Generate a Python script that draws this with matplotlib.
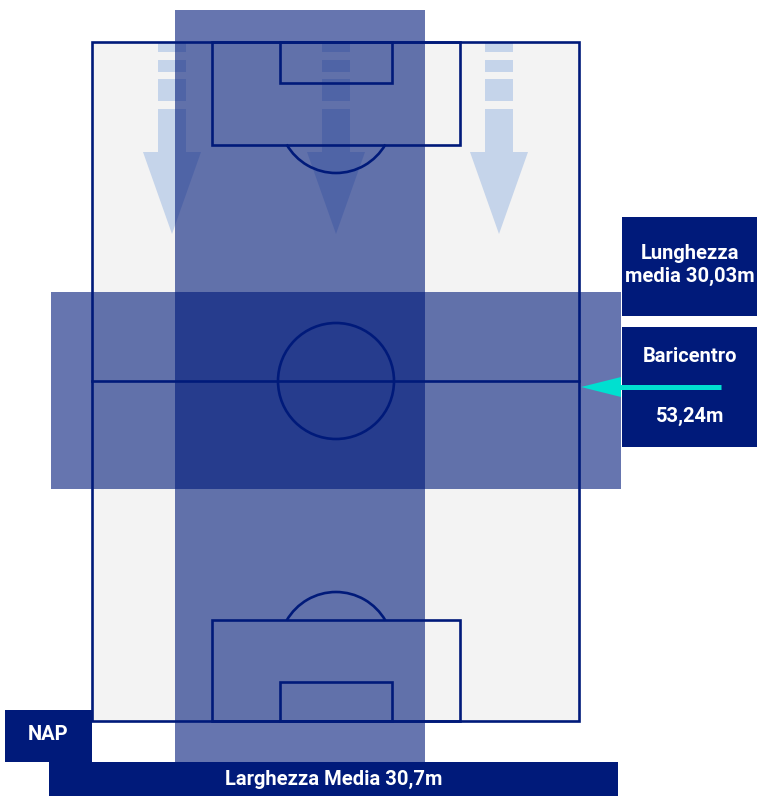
import matplotlib
matplotlib.use("Agg")
import matplotlib.pyplot as plt
from matplotlib.patches import Rectangle, Arc, Circle, Polygon

# ---- data ----
team = "NAP"
larghezza_media = 30.7      # m
lunghezza_media = 30.03     # m
baricentro = 53.24          # m

def fmt(v, nd):
    return f"{v:.{nd}f}".replace(".", ",")

NAVY = "#001a7a"
BAND = "#001a7a"
ARROW = "#c5d4ea"
CYAN = "#00e0d0"
PITCH = "#f3f3f3"

fig = plt.figure(figsize=(7.57, 7.96), dpi=100)
ax = fig.add_axes([0, 0, 1, 1])
ax.set_xlim(0, 757)
ax.set_ylim(796, 0)
ax.axis("off")

lw = 1.9
# pitch
ax.add_patch(Rectangle((92, 42), 487, 679, facecolor=PITCH, edgecolor="none", zorder=1))

# direction arrows (under bands)
for cx in [172, 336, 499]:
    hw = 14
    for y0, y1 in [(42, 52), (60, 72), (79, 101)]:
        ax.add_patch(Rectangle((cx - hw, y0), 2 * hw, y1 - y0, facecolor=ARROW, edgecolor="none", zorder=2))
    ax.add_patch(Polygon([(cx - hw, 109), (cx + hw, 109), (cx + hw, 152), (cx + 29, 152),
                          (cx, 234), (cx - 29, 152), (cx - hw, 152)],
                         closed=True, facecolor=ARROW, edgecolor="none", zorder=2))

# bands
ax.add_patch(Rectangle((175, 10), 250, 752, facecolor=BAND, alpha=0.6, edgecolor="none", zorder=4))
ax.add_patch(Rectangle((51, 292), 570, 197, facecolor=BAND, alpha=0.6, edgecolor="none", zorder=4))

# pitch lines (on top of bands)
def line_patch(p):
    p.set_zorder(5)
    ax.add_patch(p)

line_patch(Rectangle((92, 42), 487, 679, fill=False, edgecolor=NAVY, lw=lw))
ax.plot([92, 579], [381, 381], color=NAVY, lw=lw, zorder=5)
line_patch(Circle((336, 381), 58, fill=False, edgecolor=NAVY, lw=lw))
# top
line_patch(Rectangle((212, 42), 248, 103, fill=False, edgecolor=NAVY, lw=lw))
line_patch(Rectangle((280, 42), 112, 41, fill=False, edgecolor=NAVY, lw=lw))
line_patch(Arc((336, 116), 114, 114, theta1=30, theta2=150, edgecolor=NAVY, lw=lw))
# bottom
line_patch(Rectangle((212, 620), 248, 101, fill=False, edgecolor=NAVY, lw=lw))
line_patch(Rectangle((280, 682), 112, 39, fill=False, edgecolor=NAVY, lw=lw))
line_patch(Arc((336, 649), 114, 114, theta1=210, theta2=330, edgecolor=NAVY, lw=lw))

font = dict(family=["Roboto", "DejaVu Sans"], fontweight="bold", color="white", fontsize=14.5)

# right boxes
ax.add_patch(Rectangle((622, 217), 135, 99, facecolor=NAVY, edgecolor="none", zorder=6))
ax.text(690, 265, f"Lunghezza\nmedia {fmt(lunghezza_media, 2)}m", ha="center", va="center",
        linespacing=1.2, zorder=7, clip_on=True, **font)
ax.add_patch(Rectangle((622, 327), 135, 120, facecolor=NAVY, edgecolor="none", zorder=6))
ax.text(690, 356, "Baricentro", ha="center", va="center", zorder=7, **font)
ax.text(690, 416, f"{fmt(baricentro, 2)}m", ha="center", va="center", zorder=7, **font)

# cyan arrow
ax.plot([619, 721], [387, 387], color=CYAN, lw=3.6, solid_capstyle="butt", zorder=8)
ax.add_patch(Polygon([(581, 387), (621, 377), (621, 397)], closed=True,
                     facecolor=CYAN, edgecolor="none", zorder=8))

# bottom boxes
ax.add_patch(Rectangle((5, 710), 87, 52, facecolor=NAVY, edgecolor="none", zorder=6))
ax.text(48, 735, team, ha="center", va="center", zorder=7, **font)
ax.add_patch(Rectangle((49, 762), 569, 34, facecolor=NAVY, edgecolor="none", zorder=6))
ax.text(334, 779, f"Larghezza Media {fmt(larghezza_media, 1)}m", ha="center", va="center",
        zorder=7, **font)

fig.savefig("out.png", dpi=100, facecolor="white")
